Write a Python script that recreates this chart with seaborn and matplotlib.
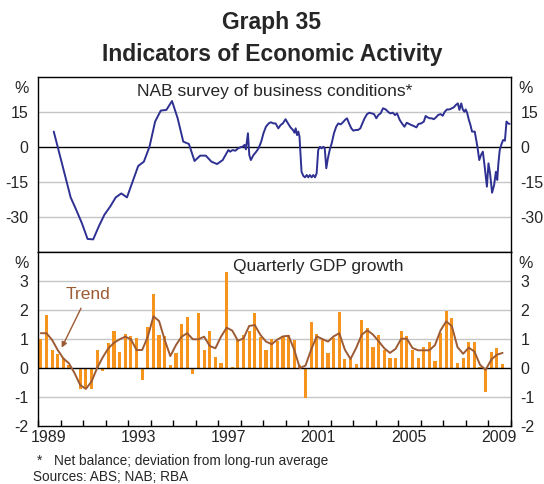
import matplotlib
matplotlib.use("Agg")
import matplotlib.pyplot as plt
import seaborn as sns
import pandas as pd

# NAB survey of business conditions (net balance, deviation from long-run avg)
# quarterly until mid-1997, monthly after that
nab_years = [
    1989.70, 1989.95, 1990.20, 1990.45, 1990.70, 1990.95, 1991.20, 1991.45,
    1991.70, 1991.95, 1992.20, 1992.45, 1992.70, 1992.95, 1993.20, 1993.45,
    1993.70, 1993.95, 1994.20, 1994.45, 1994.70, 1994.95, 1995.20, 1995.45,
    1995.70, 1995.95, 1996.20, 1996.45, 1996.70, 1996.95, 1997.20, 1997.45,
    1997.53, 1997.64, 1997.76, 1997.87, 1997.98, 1998.08, 1998.17, 1998.23,
    1998.32, 1998.38, 1998.45, 1998.57, 1998.69, 1998.79, 1998.91, 1999.01,
    1999.12, 1999.24, 1999.34, 1999.46,
    1999.55, 1999.67, 1999.77, 1999.87, 1999.99, 2000.10, 2000.21, 2000.32,
    2000.39, 2000.44, 2000.50, 2000.56, 2000.61, 2000.70, 2000.78, 2000.85,
    2000.93, 2001.00, 2001.07, 2001.15, 2001.22, 2001.30, 2001.37, 2001.44,
    2001.52, 2001.59, 2001.67, 2001.73, 2001.80, 2001.87, 2001.95, 2002.04,
    2002.14, 2002.24, 2002.33, 2002.44, 2002.54, 2002.63, 2002.72, 2002.81,
    2002.91, 2003.00, 2003.10, 2003.21, 2003.31, 2003.40, 2003.50, 2003.61,
    2003.71, 2003.81, 2003.92, 2004.02, 2004.11, 2004.21, 2004.32, 2004.44,
    2004.54, 2004.64,
    2004.75, 2004.85, 2004.94, 2005.06, 2005.16, 2005.27, 2005.37, 2005.47,
    2005.58, 2005.68, 2005.80, 2005.89, 2006.01, 2006.13, 2006.21, 2006.30,
    2006.39, 2006.48, 2006.57, 2006.67, 2006.76, 2006.87, 2006.97, 2007.06,
    2007.16, 2007.27, 2007.37, 2007.46, 2007.55, 2007.64, 2007.71, 2007.79,
    2007.86, 2007.93, 2007.99, 2008.05, 2008.13, 2008.20, 2008.27, 2008.39,
    2008.47, 2008.53, 2008.59, 2008.67, 2008.75, 2008.84, 2008.93, 2009.00,
    2009.07, 2009.16, 2009.25, 2009.33, 2009.39, 2009.44, 2009.50, 2009.58,
    2009.65, 2009.73, 2009.80, 2009.87, 2009.94,
]
nab_values = [
    6.6, -2.8, -12.2, -21.6, -27.0, -32.7, -39.4, -39.6,
    -34.0, -29.0, -25.6, -21.6, -19.9, -21.6, -14.9, -8.1,
    -6.3, 0.1, 10.9, 15.6, 15.9, 19.7, 12.3, 2.3,
    1.3, -6.0, -3.7, -3.7, -6.3, -7.3, -5.6, -1.3,
    -2.0, -1.3, -1.6, -0.7, -0.1, 0.1, 0.9, -1.0,
    5.9, -3.4, -5.6, -3.4, -2.0, -0.6, 2.3, 5.9,
    8.7, 10.1, 10.6, 10.1,
    10.1, 8.0, 9.4, 10.1, 11.9, 10.1, 8.4, 7.3,
    6.1, 8.0, 5.1, 6.6, 4.4, -10.6, -12.4, -13.0,
    -12.0, -13.0, -12.0, -13.0, -12.0, -13.0, -11.3, -1.3,
    0.1, -0.6, 0.1, -0.6, -9.1, -4.9, -1.3, 1.6,
    5.9, 8.7, 10.1, 9.7, 10.6, 11.6, 12.3, 10.1,
    8.0, 7.0, 7.3, 7.3, 8.0, 10.1, 12.3, 14.1,
    14.7, 14.4, 14.1, 12.3, 13.7, 14.4, 16.6, 16.1,
    15.1, 14.4,
    14.7, 13.7, 14.4, 11.6, 10.1, 8.7, 10.4, 9.9,
    9.4, 9.0, 8.4, 9.9, 10.1, 10.9, 13.3, 12.7,
    12.3, 12.3, 11.9, 12.7, 13.7, 14.1, 13.4, 15.1,
    16.1, 16.1, 16.6, 17.0, 18.0, 18.7, 15.9, 18.7,
    16.1, 15.1, 16.1, 14.7, 11.6, 9.4, 6.6, 6.6,
    2.3, -1.3, -5.6, -3.4, -2.0, -9.1, -17.0, -7.0,
    -11.3, -19.6, -16.3, -10.6, -14.1, -7.0, -1.3, 1.3,
    3.0, 2.7, 10.9, 10.1, 9.9,
]

# Quarterly GDP growth, 1989Q1 - 2009Q3
gdp_quarters = pd.period_range("1989Q1", "2009Q3", freq="Q")
gdp_growth = [
    1.0, 1.84, 0.63, 0.5, 0.35, 0.12, 0.0, -0.72,
    -0.7, -0.72, 0.62, -0.12, 0.87, 1.28, 0.56, 1.18,
    1.1, 1.05, -0.4, 1.42, 2.55, 1.14, 1.1, 0.12,
    0.52, 1.52, 1.76, -0.22, 1.88, 0.63, 1.28, 0.38,
    0.18, 3.3, 0.04, 0.95, 1.13, 1.28, 1.9, 1.06,
    0.62, 1.0, 0.92, 1.09, 1.14, 0.95, 0.1, -1.05,
    1.6, 1.18, 0.95, 0.53, 1.05, 1.92, 0.32, 0.32,
    0.15, 1.67, 1.39, 0.74, 1.14, 0.63, 0.34, 0.34,
    1.29, 1.12, 0.63, 0.36, 0.74, 0.91, 0.25, 1.22,
    1.98, 1.74, 0.18, 0.36, 0.91, 0.91, 0.02, -0.84,
    0.56, 0.7, 0.15,
]
gdp_trend = [
    1.2, 1.2, 0.97, 0.62, 0.33, 0.16, -0.18, -0.59,
    -0.72, -0.47, 0.0, 0.37, 0.68, 0.87, 0.99, 1.08,
    0.99, 0.62, 0.62, 1.08, 1.78, 1.62, 0.97, 0.41,
    0.79, 1.08, 1.2, 0.99, 0.99, 1.08, 0.76, 0.68,
    1.08, 1.39, 1.29, 0.94, 1.02, 1.45, 1.48, 1.14,
    0.91, 0.82, 0.98, 1.09, 1.11, 0.63, 0.0, 0.08,
    0.63, 1.09, 1.0, 0.91, 1.09, 1.2, 0.63, 0.31,
    0.69, 1.15, 1.3, 1.15, 0.92, 0.68, 0.52, 0.66,
    1.01, 1.01, 0.69, 0.61, 0.61, 0.61, 0.79, 1.3,
    1.61, 1.44, 0.72, 0.49, 0.7, 0.57, 0.11, -0.06,
    0.29, 0.46, 0.52,
]

year_labels = [1989, 1993, 1997, 2001, 2005, 2009]

navy = "#2e3192"
orange = "#f7941d"
brown = "#9c5b34"
grid_c = "#c4c6c8"

sns.set_style("white")
plt.rcParams["font.family"] = ["Liberation Sans", "DejaVu Sans"]
plt.rcParams["axes.unicode_minus"] = False

fig = plt.figure(figsize=(5.44, 4.84), dpi=100)
ax1 = fig.add_axes([38 / 544, 1 - 252 / 484, 473 / 544, 175 / 484])
ax2 = fig.add_axes([38 / 544, 1 - 426 / 484, 473 / 544, 174 / 484])

# top panel: NAB
nab_df = pd.DataFrame({"year": nab_years, "value": nab_values})
for v in [15, -15, -30]:
    ax1.axhline(v, color=grid_c, lw=1, zorder=0)
ax1.axhline(0, color="black", lw=1, zorder=1)
sns.lineplot(data=nab_df, x="year", y="value", ax=ax1, color=navy, lw=1.4, zorder=3)
ax1.set_ylim(-45, 30)
ax1.set_yticks([-30, -15, 0, 15])
ax1.set_xticks([])
ax1.text(0.5, 0.92, "NAB survey of business conditions*", transform=ax1.transAxes,
         ha="center", va="center", fontsize=12.5)

# bottom panel: GDP
gdp_df = pd.DataFrame({
    "year": gdp_quarters.year + (gdp_quarters.quarter - 0.5) / 4,
    "growth": gdp_growth,
    "trend": gdp_trend,
})
for v in [3, 2, 1, -1]:
    ax2.axhline(v, color=grid_c, lw=1, zorder=0)
sns.barplot(data=gdp_df, x="year", y="growth", ax=ax2, native_scale=True,
            width=0.56, color=orange, saturation=1, errorbar=None,
            linewidth=0, edgecolor="none", zorder=2)
ax2.axhline(0, color="black", lw=1, zorder=3)
sns.lineplot(data=gdp_df, x="year", y="trend", ax=ax2, color=brown, lw=1.4, zorder=4)
ax2.set_ylim(-2, 4)
ax2.set_yticks([-2, -1, 0, 1, 2, 3])
ax2.text(0.592, 0.915, "Quarterly GDP growth", transform=ax2.transAxes,
         ha="center", va="center", fontsize=12.5)
ax2.annotate("Trend", xy=(1990.05, 0.7), xytext=(1991.2, 2.52), color=brown,
             fontsize=12.5, ha="center", va="center",
             arrowprops=dict(arrowstyle="-|>", color=brown, lw=1, mutation_scale=8,
                             shrinkA=2, shrinkB=0))

for ax in (ax1, ax2):
    ax.set_xlim(1989, 2010)
    ax.set_xlabel("")
    ax.set_ylabel("")
    for s in ax.spines.values():
        s.set_color("black")
        s.set_linewidth(1)
    ax.tick_params(axis="y", length=0, labelsize=11.5, pad=7,
                   labelleft=True, labelright=True)
    ax.annotate("%", xy=(0, 1), xycoords="axes fraction", xytext=(-7, -3),
                textcoords="offset points", ha="right", va="top", fontsize=11.5)
    ax.annotate("%", xy=(1, 1), xycoords="axes fraction", xytext=(5, -3),
                textcoords="offset points", ha="left", va="top", fontsize=11.5)

ax2.set_xticks(list(range(1989, 2011)))
ax2.set_xticklabels([])
ax2.tick_params(axis="x", which="major", direction="in", length=4, width=1,
                color="black", bottom=True)
ax2.set_xticks([y + 0.45 for y in year_labels], minor=True)
ax2.set_xticklabels([str(y) for y in year_labels], minor=True)
ax2.tick_params(axis="x", which="minor", length=0, labelsize=11.5, pad=3)

fig.text(0.5, 1 - 22 / 484, "Graph 35", ha="center", va="center",
         fontsize=16.5, fontweight="bold")
fig.text(0.5, 1 - 55 / 484, "Indicators of Economic Activity", ha="center",
         va="center", fontsize=16.5, fontweight="bold")
fig.text(37 / 544, 1 - 461 / 484, "*", ha="left", va="center", fontsize=9.8)
fig.text(54 / 544, 1 - 461 / 484, "Net balance; deviation from long-run average",
         ha="left", va="center", fontsize=9.8)
fig.text(33 / 544, 1 - 477 / 484, "Sources: ABS; NAB; RBA", ha="left",
         va="center", fontsize=9.8)

fig.savefig("out.png", dpi=100)
